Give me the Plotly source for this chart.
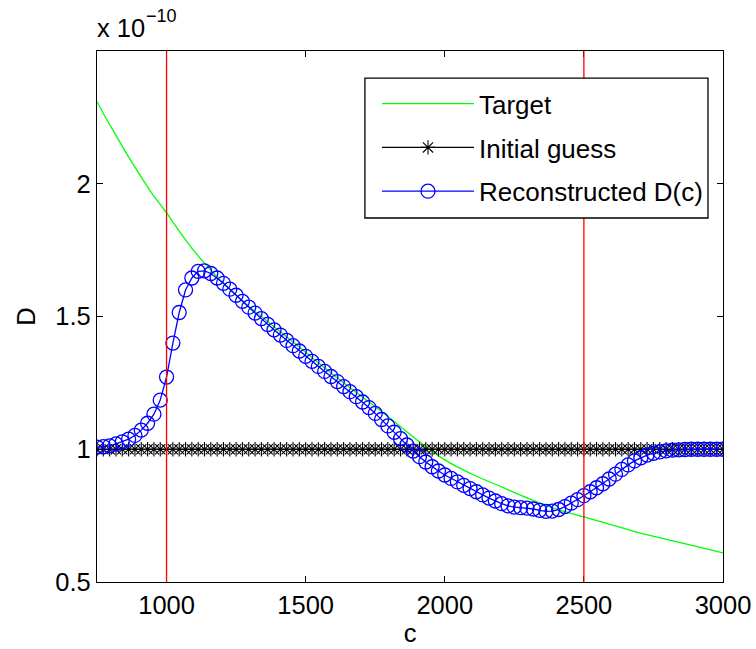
import numpy as np
import plotly.graph_objects as go

# ---------------- data ----------------
c_grid = np.linspace(750, 3000, 100)  # sampling grid of the reconstruction

target_c = [750, 775, 800, 850, 900, 950, 1000, 1050, 1100, 1150, 1200, 1300, 1400, 1500,
            1600, 1700, 1800, 1900, 2000, 2100, 2200, 2300, 2400, 2500, 2600, 2700, 2800,
            2900, 3000]
target_D = [2.31, 2.26, 2.215, 2.125, 2.04, 1.96, 1.89, 1.815, 1.745, 1.685, 1.63, 1.535,
            1.45, 1.365, 1.28, 1.20, 1.12, 1.035, 0.96, 0.905, 0.86, 0.815, 0.775, 0.745,
            0.715, 0.685, 0.66, 0.635, 0.61]

initial_D = [1.0] * 100

recon_D = [1.008, 1.010, 1.013, 1.020, 1.028, 1.038, 1.052, 1.072, 1.098, 1.132,
           1.185, 1.272, 1.400, 1.515, 1.600, 1.645, 1.670, 1.672, 1.662, 1.645,
           1.625, 1.603, 1.580, 1.557, 1.535, 1.513, 1.492, 1.470, 1.450, 1.430,
           1.410, 1.390, 1.370, 1.350, 1.331, 1.312, 1.293, 1.274, 1.255, 1.236,
           1.217, 1.198, 1.178, 1.157, 1.135, 1.112, 1.088, 1.064, 1.040, 1.016,
           0.993, 0.972, 0.952, 0.934, 0.918, 0.903, 0.890, 0.877, 0.864, 0.852,
           0.840, 0.828, 0.816, 0.805, 0.795, 0.787, 0.782, 0.780, 0.778, 0.775,
           0.770, 0.766, 0.767, 0.773, 0.784, 0.797, 0.810, 0.825, 0.840, 0.855,
           0.870, 0.888, 0.906, 0.924, 0.941, 0.956, 0.968, 0.978, 0.985, 0.990,
           0.994, 0.997, 0.998, 0.999, 1.000, 1.000, 1.000, 1.000, 1.000, 1.000]

vlines_c = [1000, 2500]

x_ticks = [1000, 1500, 2000, 2500, 3000]
y_ticks = [0.5, 1, 1.5, 2]

FONT = "Liberation Sans, Arial, sans-serif"
FS = 25.5

fig = go.Figure()
fig.add_trace(go.Scatter(x=target_c, y=target_D, mode="lines", name="Target",
                         legendgroup="a",
                         line=dict(color="#00ff00", width=1.3, shape="spline", smoothing=0.6)))
fig.add_trace(go.Scatter(x=c_grid, y=initial_D, mode="lines+markers", name="Initial guess",
                         legendgroup="b",
                         line=dict(color="black", width=1.2),
                         marker=dict(symbol="asterisk-open", size=12, color="black",
                                     line=dict(color="black", width=1.1))))
fig.add_trace(go.Scatter(x=c_grid, y=recon_D, mode="lines+markers", name="Reconstructed D(c)",
                         legendgroup="c",
                         line=dict(color="#0000ff", width=1.3),
                         marker=dict(symbol="circle-open", size=14, color="#0000ff",
                                     line=dict(color="#0000ff", width=1.3))))

for xv in vlines_c:
    fig.add_shape(type="line", x0=xv, x1=xv, y0=0, y1=1, xref="x", yref="paper",
                  line=dict(color="red", width=1.3), layer="above")

# opaque legend box (MATLAB style)
fig.add_shape(type="rect", xref="paper", yref="paper",
              x0=0.428, x1=0.976, y0=0.6855, y1=0.949,
              line=dict(color="black", width=1.3), fillcolor="white", layer="above")

axis_common = dict(showgrid=False, zeroline=False, showline=True, linecolor="black",
                   linewidth=1.3, mirror="ticks", ticks="inside", ticklen=6,
                   tickcolor="black", tickwidth=1, automargin=False,
                   tickfont=dict(family=FONT, size=FS, color="black"))

fig.update_xaxes(range=[750, 3000], tickvals=x_ticks, ticktext=[str(v) for v in x_ticks],
                 title=dict(text="c", font=dict(family=FONT, size=FS, color="black"), standoff=0),
                 **axis_common)
fig.update_yaxes(range=[0.5, 2.5], tickvals=y_ticks, ticktext=["0.5", "1", "1.5", "2"],
                 title=dict(text="D", font=dict(family=FONT, size=FS, color="black"), standoff=12),
                 **axis_common)

fig.add_annotation(text="x 10", xref="paper", yref="paper", x=0, y=1,
                   xanchor="left", yanchor="bottom", yshift=7, xshift=-2, showarrow=False,
                   font=dict(family=FONT, size=FS, color="black"))
fig.add_annotation(text="−10", xref="paper", yref="paper", x=0, y=1,
                   xanchor="left", yanchor="bottom", yshift=23, xshift=47, showarrow=False,
                   font=dict(family=FONT, size=18, color="black"))

fig.update_layout(
    width=756, height=649,
    margin=dict(l=97, r=33, t=51, b=67),
    paper_bgcolor="white", plot_bgcolor="white",
    showlegend=True,
    legend=dict(x=0.976, y=0.945, xanchor="right", yanchor="top",
                bgcolor="rgba(0,0,0,0)", borderwidth=0,
                font=dict(family=FONT, size=26, color="black"),
                itemwidth=92, tracegroupgap=7),
)

fig.write_html("out.html")
